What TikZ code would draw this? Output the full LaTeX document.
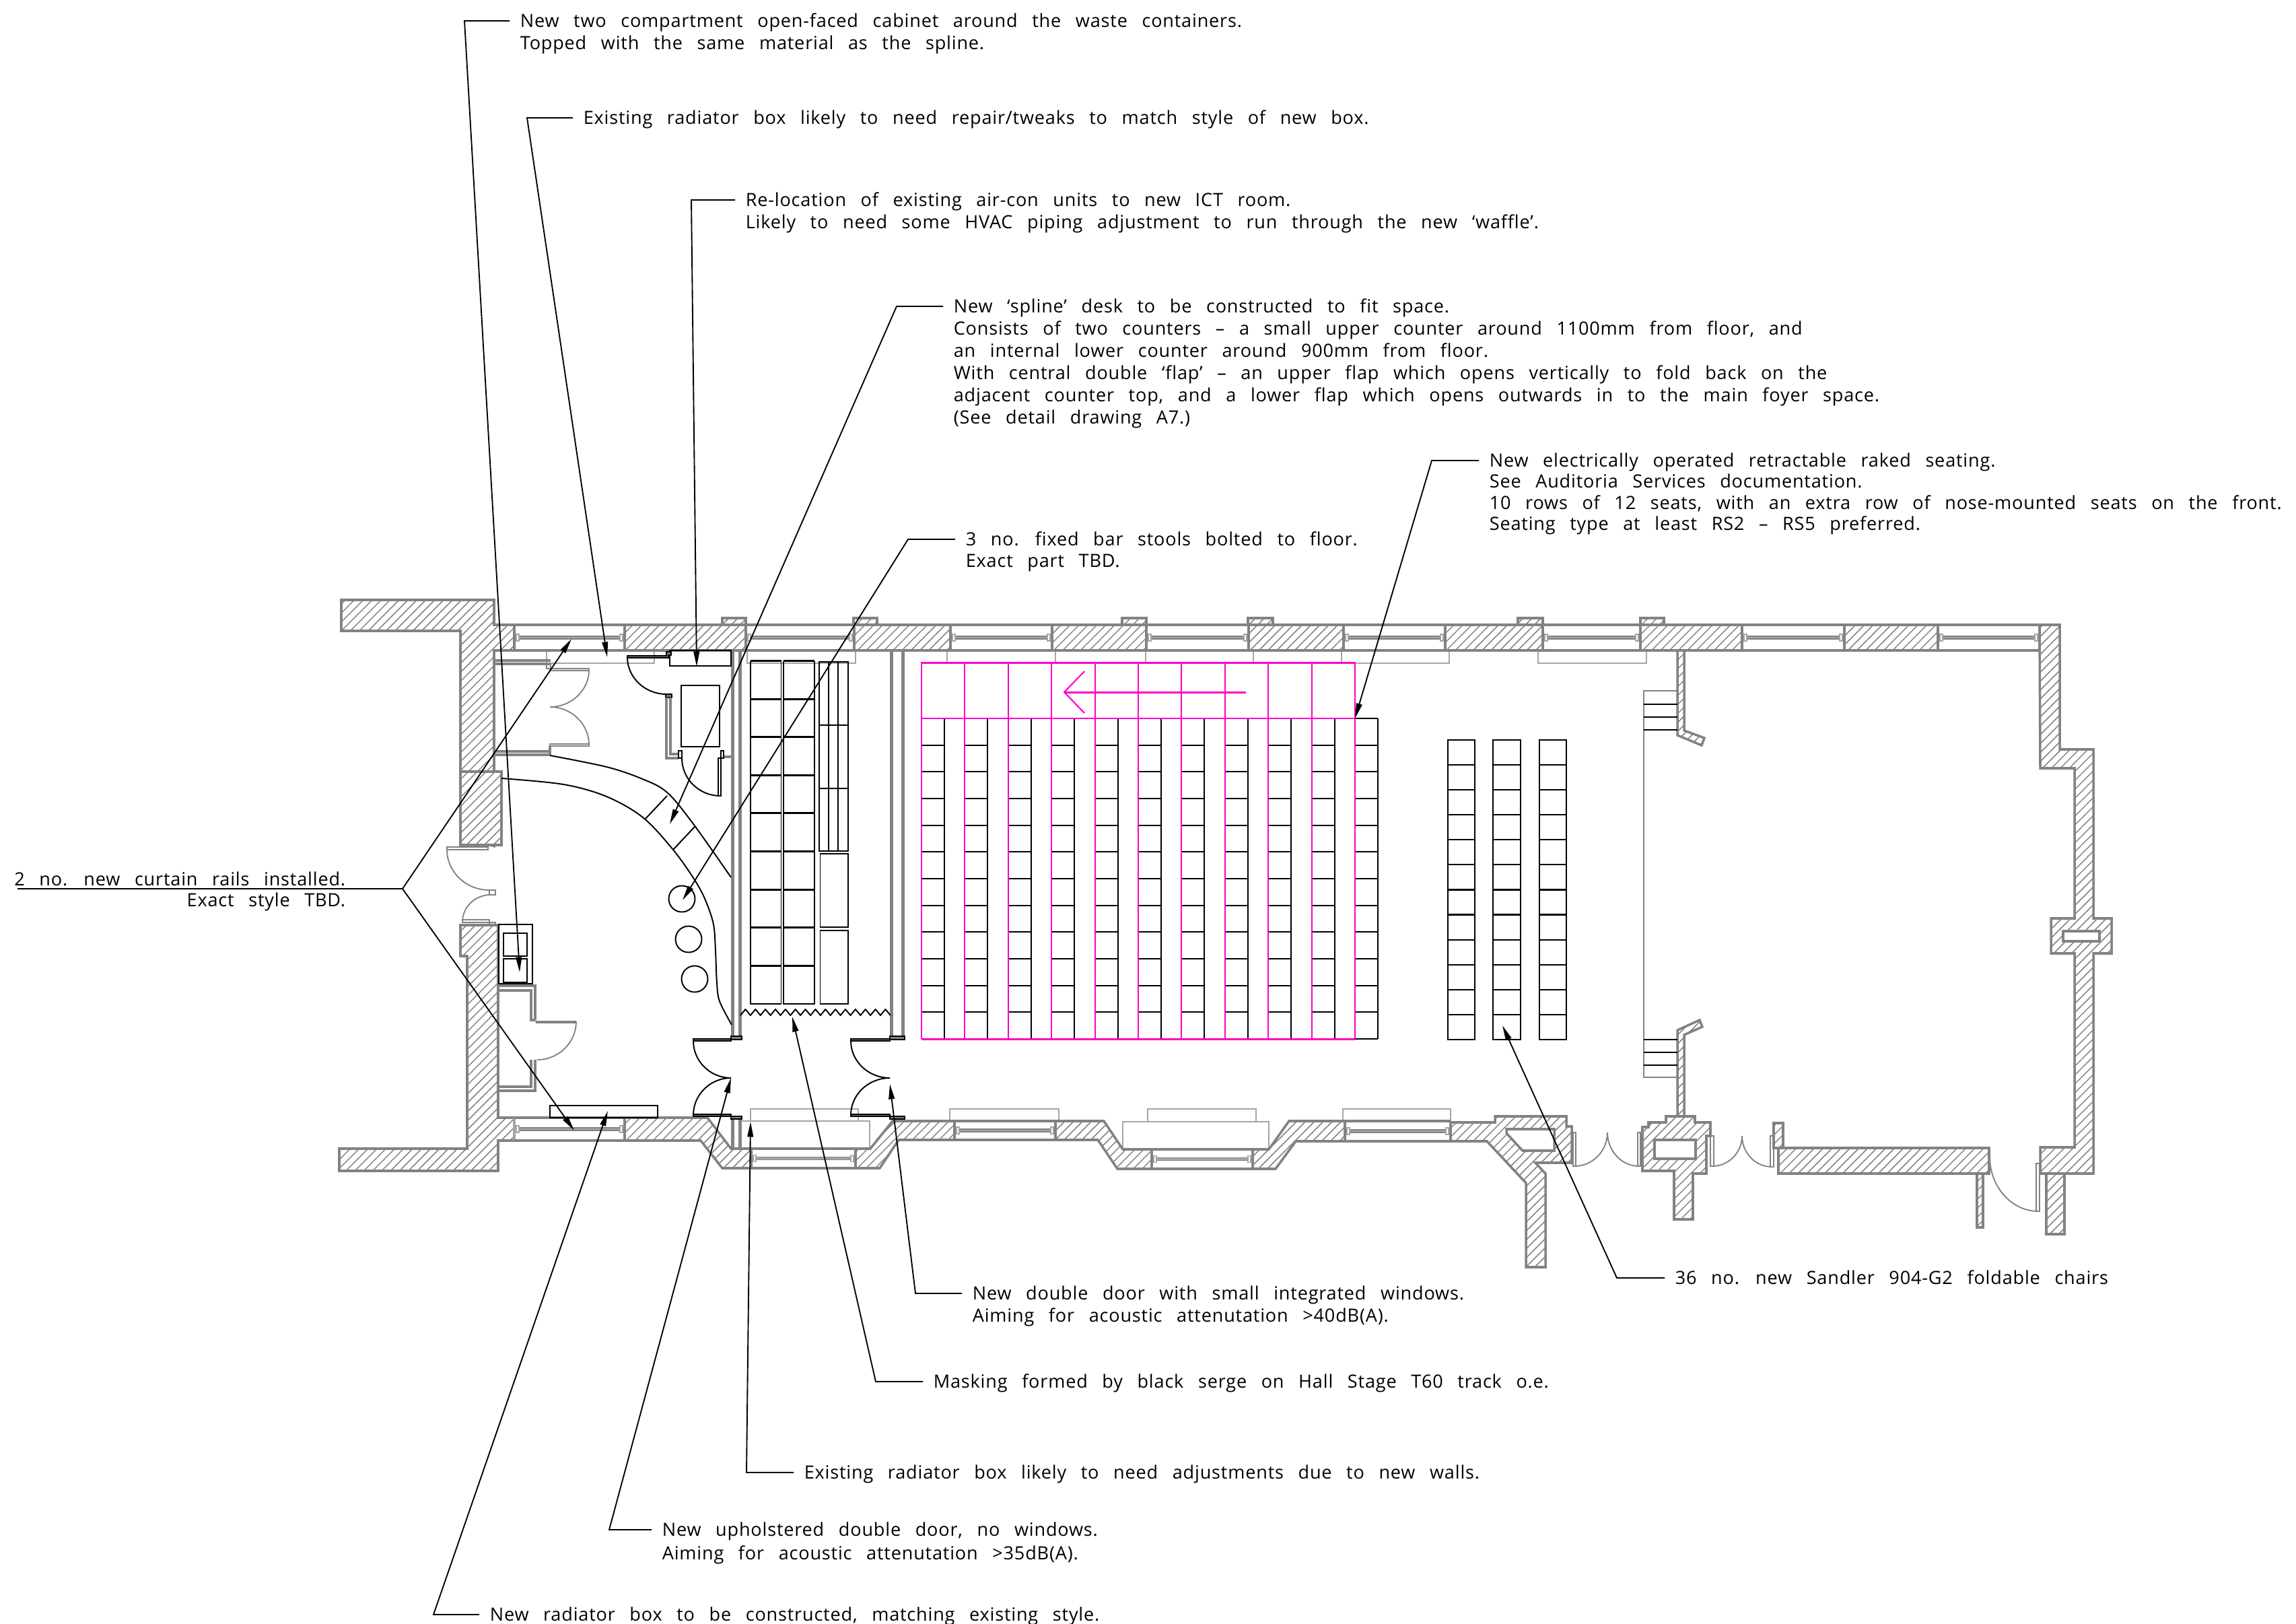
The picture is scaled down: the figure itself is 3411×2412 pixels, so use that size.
\documentclass[tikz,border=0pt]{standalone}
\usepackage{fontspec}
\setmainfont{Open Sans}[WordSpace=2.75,LetterSpace=3,Ligatures=NoCommon]
\usetikzlibrary{arrows.meta,patterns.meta}
\definecolor{wallgray}{RGB}{130,130,130}
\definecolor{lightg}{RGB}{165,165,165}
\definecolor{mag}{RGB}{255,0,200}
\tikzset{
 x=0.24pt,y=-0.24pt,
 wall/.style={draw=wallgray,line width=0.85pt,line join=miter},
 partitionwall/.style={draw=wallgray,line width=1.2pt},
 hatched/.style={wall,pattern={Lines[angle=45,distance=2.25pt,line width=0.36pt]},pattern color=wallgray},
 radbox/.style={draw=lightg,line width=0.45pt},
 greythin/.style={draw=wallgray,line width=0.45pt},
 winside/.style={draw=lightg,line width=0.75pt},
 blk/.style={draw=black,line width=0.47pt},
 blkthick/.style={draw=black,line width=0.7pt},
 seatrow/.style={draw=black,line width=0.52pt},
 magline/.style={draw=mag,line width=0.5pt},
 magthick/.style={draw=mag,line width=0.72pt},
 leader/.style={draw=black,line width=0.45pt,-{Triangle[length=5.4pt,width=2.1pt]}},
 leaderplain/.style={draw=black,line width=0.45pt},
 txt/.style={font=\fontsize{6.5pt}{7.5pt}\selectfont,anchor=west,inner xsep=3.6pt,inner ysep=0pt,text height=4.64pt,text depth=0pt,xshift=-3.6pt,text=black},
 txtr/.style={txt,anchor=east,xshift=7.2pt},
}
\newcommand\qarc[4]{({#1},{#2}) .. controls ({#1},{#2+.55*(#4-#2)}) and ({#3+.55*(#1-#3)},{#4}) .. ({#3},{#4})}
\newcommand\win[4]{%
 \draw[winside] (#1,#3) -- (#1,#4); \draw[winside] (#2,#3) -- (#2,#4);
 \draw[wall] (#1,#3) -- (#2,#3); \draw[wall] (#1,#4) -- (#2,#4);
 \pgfmathsetmacro\ym{(#3+#4)/2}
 \pgfmathsetmacro\xa{#1+6}\pgfmathsetmacro\xb{#2-6}
 \draw[draw=lightg,line width=1pt] (\xa,\ym) -- (\xb,\ym);
 \draw[draw=wallgray,line width=0.3pt] (\xa,\ym-2) -- (\xb,\ym-2);
 \draw[draw=wallgray,line width=0.3pt] (\xa,\ym+2) -- (\xb,\ym+2);
 \draw[draw=lightg,line width=0.35pt] (\xa-3,\ym-5) rectangle (\xa+1,\ym+5);
 \draw[draw=lightg,line width=0.35pt] (\xb-1,\ym-5) rectangle (\xb+3,\ym+5);
}
\newcommand\tline[4]{\node[txt] (#1) at (#2,#3) {#4};}
\begin{document}
\begin{tikzpicture}
\useasboundingbox (0,0) rectangle (3411,2412);
% ---------- radiators (light grey)
\foreach \a/\b in {812/972,1110/1271,1407/1568,1702/1862,1993/2153,2285/2446}
  \draw[radbox] (\a,966) -- (\a,985) -- (\b,985) -- (\b,966);
\foreach \a/\b in {1115/1275,1411/1573,1705/1866,1995/2155}
  \draw[radbox] (\a,1665) -- (\a,1647) -- (\b,1647) -- (\b,1665);
\draw[radbox] (1102,1665) -- (1292,1665) -- (1292,1707);
\draw[radbox] (1668,1707) -- (1668,1666) -- (1885,1666) -- (1885,1707);
% ---------- top wall
\foreach \a/\b in {764/928,1108/1269,1412/1563,1703/1855,1996/2147,2292/2437,2588/2740,2879/3030}
  {\win{\a}{\b}{928}{966}}
\foreach \a/\b in {928/1108,1269/1412,1563/1703,1855/1996,2147/2292,2437/2588,2740/2879}
  \draw[hatched] (\a,928) rectangle (\b,966);
\foreach \a/\b in {1073/1108,1268/1303,1667/1703,1854/1891,2255/2292,2437/2472}
  \draw[hatched] (\a,918) rectangle (\b,928);
% left walls
\draw[hatched] (507,891) -- (734,891) -- (734,928) -- (764,928) -- (764,966) -- (734,966) -- (734,1146) -- (684,1146) -- (684,937) -- (507,937) -- cycle;
\draw[hatched] (684,1146) rectangle (745,1255);
\draw[hatched] (684,1374) -- (740,1374) -- (740,1660) -- (764,1660) -- (764,1694) -- (740,1694) -- (740,1739) -- (504,1739) -- (504,1706) -- (694,1706) -- (694,1420) -- (684,1420) -- cycle;
% right wall
\draw[hatched] (3030,928) -- (3060,928) -- (3060,1113) -- (3110,1113) -- (3110,1364) -- (3137,1364) -- (3137,1416) -- (3110,1416) -- (3110,1743) -- (3031,1743) -- (3031,1704) -- (3082,1704) -- (3082,1416) -- (3047,1416) -- (3047,1364) -- (3082,1364) -- (3082,1141) -- (3031,1141) -- cycle;
\draw[wall,fill=white] (3065,1383) rectangle (3119,1398);
% ---------- bottom wall
\win{764}{928}{1660}{1694}
\win{1116}{1271}{1706}{1735}
\win{1418}{1568}{1665}{1693}
\win{1711}{1861}{1707}{1736}
\win{1998}{2155}{1665}{1695}
\draw[hatched] (928,1660) -- (1051,1660) -- (1086,1706) -- (1116,1706) -- (1116,1735) -- (1073,1735) -- (1041,1694) -- (928,1694) -- cycle;
\draw[hatched] (1271,1706) -- (1293,1706) -- (1326,1665) -- (1418,1665) -- (1418,1693) -- (1335,1693) -- (1307,1735) -- (1271,1735) -- cycle;
\draw[hatched] (1568,1665) -- (1640,1665) -- (1668,1707) -- (1711,1707) -- (1711,1736) -- (1660,1736) -- (1631,1693) -- (1568,1693) -- cycle;
\draw[hatched] (1861,1707) -- (1885,1707) -- (1915,1665) -- (1998,1665) -- (1998,1695) -- (1925,1695) -- (1895,1736) -- (1861,1736) -- cycle;
% irregular chimney
\draw[hatched] (2155,1667) -- (2221,1667) -- (2221,1658) -- (2327,1658) -- (2327,1673) -- (2335,1673) -- (2335,1727) -- (2281,1727) -- (2296,1743) -- (2296,1882) -- (2267,1882) -- (2267,1757) -- (2209,1695) -- (2155,1695) -- cycle;
\draw[wall,fill=white] (2238,1677) -- (2309,1677) -- (2309,1709) -- (2262,1709) -- (2238,1683) -- cycle;
% pillar
\draw[hatched] (2475,1658) -- (2518,1658) -- (2518,1667) -- (2541,1667) -- (2541,1687) -- (2535,1687) -- (2535,1743) -- (2515,1743) -- (2515,1811) -- (2487,1811) -- (2487,1739) -- (2440,1739) -- (2440,1674) -- (2449,1674) -- (2449,1667) -- (2475,1667) -- cycle;
\draw[wall,fill=white] (2458,1693) rectangle (2519,1721);
% partition
\draw[hatched] (2492,966) -- (2502,966) -- (2502,1085) -- (2532,1096) -- (2528,1107) -- (2492,1092) -- cycle;
\draw[hatched] (2492,1658) -- (2492,1530) -- (2525,1515) -- (2529,1525) -- (2502,1537) -- (2502,1658) -- cycle;
% long wall and stubs
\draw[hatched] (2635,1668) rectangle (2649,1705);
\draw[hatched] (2642,1705) rectangle (2955,1743);
\draw[hatched] (3040,1743) rectangle (3067,1833);
\draw[hatched] (2937,1743) rectangle (2946,1823);
% lower right doors
\draw[greythin] \qarc{2388}{1682}{2339}{1732};
\draw[greythin] \qarc{2388}{1682}{2435}{1732};
\draw[greythin] (2337,1682) rectangle (2341,1732);
\draw[greythin] (2433,1682) rectangle (2437,1732);
\draw[greythin] \qarc{2588}{1687}{2544}{1732};
\draw[greythin] \qarc{2588}{1687}{2632}{1733};
\draw[greythin] (2541,1687) rectangle (2546,1732);
\draw[greythin] (2630,1687) rectangle (2635,1733);
\draw[greythin] \qarc{2956}{1718}{3028}{1799};
\draw[greythin] (3025,1728) rectangle (3030,1799);
% raked side steps
\draw[greythin,line width=.65pt] (2492,1026) -- (2442,1026) -- (2442,1600) -- (2492,1600);
\foreach \y in {1046,1065,1084} \draw[blk] (2442,\y) -- (2492,\y);
\foreach \y in {1544,1563,1582} \draw[blk] (2442,\y) -- (2492,\y);
% ---------- lobby gray doors
\draw[wall] (734,981) -- (818,981); \draw[wall] (734,986) -- (818,986);
\draw[greythin] (812,987) rectangle (818,993);
\draw[greythin] (817,993) rectangle (875,996);
\draw[greythin] \qarc{875}{995}{817}{1050};
\draw[greythin] \qarc{875}{1106}{817}{1050};
\draw[greythin] (817,1105) rectangle (875,1108);
\draw[wall] (734,1116) -- (818,1116); \draw[wall] (734,1121) -- (818,1121); \draw[wall] (817,1108) -- (817,1121);
\draw[greythin] (664,1258) rectangle (725,1262);
\draw[greythin] \qarc{664}{1262}{727}{1322};
\draw[greythin] (727,1322) rectangle (736,1329);
\draw[greythin] (725,1255) -- (736,1258);
\draw[greythin] \qarc{687}{1369}{729}{1329};
\draw[greythin] (687,1366) rectangle (727,1370);
\draw[greythin] (727,1370) rectangle (736,1374);
% cupboard lower left
\draw[wall] (740,1464) -- (795,1464) -- (795,1515);
\draw[wall] (740,1471) -- (789,1471) -- (789,1515) -- (795,1515);
\draw[wall,line width=.6pt] (795,1517) -- (856,1517);
\draw[greythin] (796,1519) -- (856,1519);
\draw[greythin] \qarc{856}{1517}{798}{1574};
\draw[wall] (795,1574) -- (795,1620) -- (740,1620);
\draw[wall] (789,1574) -- (789,1614) -- (740,1614);
% ---------- partitions
\foreach \x in {1088.5,1099.5,1324,1341.5} \draw[partitionwall] (\x,966) -- (\x,1540);
\foreach \x in {1088.5,1099.5} \draw[partitionwall] (\x,1663) -- (\x,1707);
% ---------- black items in lobby
\draw[blk] (995,966) rectangle (1086,989);
\draw[blk,fill=wallgray] (932,974) -- (990,974) -- (990,968) -- (997,968) -- (997,973) -- (993,973) -- (993,977) -- (932,977) -- cycle;
\draw[blk] \qarc{932}{976}{990}{1031};
\draw[blk,fill=wallgray] (989,1031) rectangle (998,1036);
\draw[wall] (990,1036) -- (990,1126) -- (1008,1126);
\draw[wall] (996,1036) -- (996,1120) -- (1008,1120);
\draw[wall] (1075,1124) -- (1088,1124);
\draw[blk] (1012,1018) rectangle (1069,1109);
\draw[blk,fill=white] (1008,1115) rectangle (1013,1126);
\draw[blk,fill=white] (1071,1115) rectangle (1075,1126);
\draw[blk] \qarc{1013}{1126}{1070}{1182};
\draw[blk,fill=white] (1067,1126) rectangle (1071,1182);
% spline desk
\draw[blk] plot[smooth,tension=.55] coordinates {(817,1122) (901,1139) (952,1156) (990,1176) (1028,1221) (1086,1303)};
\draw[blk] plot[smooth,tension=.55] coordinates {(745,1156) (837,1165) (901,1183) (955,1214) (1000,1262) (1032,1307) (1048,1337) (1060,1373) (1063,1413) (1065,1460) (1069,1487) (1087,1522)};
\draw[blk] (991,1182) -- (958,1217);
\draw[blk] (1032,1228) -- (1000,1262);
% stools
\foreach \cx/\cy in {1013/1335,1023/1395,1032/1454} \draw[blk] (\cx,\cy) circle (19.5);
% waste cabinet
\draw[blk] (741,1373) rectangle (791,1461);
\draw[blk] (748,1386) rectangle (783,1420);
\draw[blk] (748,1424) rectangle (783,1459);
% new radiator box
\draw[blk] (817,1642) rectangle (977,1660);
% double doors
\foreach \l/\r in {1030/1086,1264/1322}{
  \draw[blk,fill=wallgray] (\l,1543) rectangle (\r,1546);
  \draw[blk,fill=wallgray] (\l,1655) rectangle (\r,1658);
  \draw[blk] \qarc{\l}{1546}{\r}{1601};
  \draw[blk] \qarc{\l}{1656}{\r}{1601};
}
\draw[blk,fill=wallgray] (1086,1539) rectangle (1102,1544);
\draw[blk,fill=wallgray] (1086,1658) rectangle (1102,1662);
\draw[blk,fill=wallgray] (1322,1539) rectangle (1344,1544);
\draw[blk,fill=wallgray] (1322,1658) rectangle (1344,1662);
% masking
\draw[blk,line join=round] (1100,1508) \foreach \i in {0,...,14}{ -- ++(7.43,-9) -- ++(7.43,9)};
% store racks
\foreach \xa/\xb in {1115/1160.5,1164/1210}{
  \draw[blk] (\xa,981.5) -- (\xa,1491) -- (\xb,1491) -- (\xb,981.5);
  \foreach \j in {0,...,8} \draw[blkthick] (\xa,981.5+\j*56.6) -- (\xb,981.5+\j*56.6);
}
\draw[blk] (1217,983) rectangle (1260,1263.6);
\foreach \y in {983,1077,1171} \draw[blkthick] (1217,\y) -- (1260,\y);
\foreach \x in {1231,1245} \draw[blk] (\x,983) -- (\x,1263.6);
\draw[blk] (1218.5,1268) rectangle (1260,1377);
\draw[blk] (1218.5,1382) rectangle (1260,1491);
% chairs
\foreach \xa/\xb in {2151/2191,2218/2259,2287/2327}{
  \draw[blk] (\xa,1099) rectangle (\xb,1544);
  \foreach \j in {0,...,12} \draw[seatrow] (\xa,1099+\j*37.08) -- (\xb,1099+\j*37.08);
}
% raked seating: black rows
\foreach \i in {0,...,10}{
  \pgfmathsetmacro\xl{1369+\i*64.4}
  \pgfmathsetmacro\xr{\xl+34}
  \draw[blk] (\xr,1067) -- (\xr,1543);
  \foreach \j in {1,...,11} \draw[seatrow] (\xl,1067+\j*39.67) -- (\xr,1067+\j*39.67);
  \draw[seatrow] (\xl,1067) -- (\xr,1067);
  \draw[magline] (\xl,1067) -- (\xl,1543);
}
\draw[blk] (2013,1543) -- (2047,1543);
% magenta
\draw[magthick] (1369,1543) -- (2013,1543);
\draw[magline] (1369,984) rectangle (2013,1067);
\draw[magthick] (1369,984) -- (2013,984);
\foreach \i in {1,...,9} \draw[magline] (1369+\i*64.4,984) -- (1369+\i*64.4,1067);
\draw[magthick] (1851,1028) -- (1581,1028);
\draw[magline] (1611,997) -- (1581,1028) -- (1611,1059);
% ---------- texts
\tline{tAa}{772}{31}{New two compartment open-faced cabinet around the waste containers.}
\tline{tAb}{772}{64}{Topped with the same material as the spline.}
\tline{tB}{866}{175}{Existing radiator box likely to need repair/tweaks to match style of new box.}
\tline{tCa}{1107}{297}{Re-location of existing air-con units to new ICT room.}
\tline{tCb}{1107}{330}{Likely to need some HVAC piping adjustment to run through the new ‘waffle’.}
\tline{tDa}{1416}{455}{New ‘spline’ desk to be constructed to fit space.}
\tline{tDb}{1416}{488}{Consists of two counters – a small upper counter around 1100mm from floor, and}
\tline{tDc}{1416}{521}{an internal lower counter around 900mm from floor.}
\tline{tDd}{1416}{554}{With central double ‘flap’ – an upper flap which opens vertically to fold back on the}
\tline{tDe}{1416}{587}{adjacent counter top, and a lower flap which opens outwards in to the main foyer space.}
\tline{tDf}{1416}{620}{(See detail drawing A7.)}
\tline{tEa}{1434}{801}{3 no. fixed bar stools bolted to floor.}
\tline{tEb}{1434}{833}{Exact part TBD.}
\tline{tFa}{2212}{684}{New electrically operated retractable raked seating.}
\tline{tFb}{2212}{715}{See Auditoria Services documentation.}
\tline{tFc}{2212}{747}{10 rows of 12 seats, with an extra row of nose-mounted seats on the front.}
\tline{tFd}{2212}{778}{Seating type at least RS2 – RS5 preferred.}
\node[txtr] (tGa) at (514,1306) {2 no. new curtain rails installed.};
\node[txtr] (tGb) at (514,1337) {Exact style TBD.};
\tline{tH}{2488}{1898}{36 no. new Sandler 904-G2 foldable chairs}
\tline{tIa}{1444}{1921}{New double door with small integrated windows.}
\tline{tIb}{1444}{1954}{Aiming for acoustic attenutation >40dB(A).}
\tline{tJ}{1386}{2052}{Masking formed by black serge on Hall Stage T60 track o.e.}
\tline{tK}{1194}{2187}{Existing radiator box likely to need adjustments due to new walls.}
\tline{tLa}{983}{2272}{New upholstered double door, no windows.}
\tline{tLb}{983}{2307}{Aiming for acoustic attenutation >35dB(A).}
\tline{tM}{727}{2398}{New radiator box to be constructed, matching existing style.}
% ---------- leaders
\coordinate (eA) at (690,31);   \coordinate (pA) at (772,1444);
\coordinate (eB) at (783,175);  \coordinate (pB) at (902,976);
\coordinate (eC) at (1027,297); \coordinate (pC) at (1035,990);
\coordinate (eD) at (1332,455); \coordinate (pD) at (995,1224);
\coordinate (eE) at (1349,801); \coordinate (pE) at (1014,1337);
\coordinate (eF) at (2127,684); \coordinate (pF) at (2013,1067);
\coordinate (eH) at (2402,1898);\coordinate (pH) at (2232,1523);
\coordinate (eI) at (1360,1921);\coordinate (pI) at (1322,1610);
\coordinate (eJ) at (1301,2052);\coordinate (pJ) at (1177,1510);
\coordinate (eK) at (1109,2187);\coordinate (pK) at (1115,1666);
\coordinate (eL) at (905,2272); \coordinate (pL) at (1086,1601);
\coordinate (eM) at (644,2398); \coordinate (pM) at (903,1650);
\foreach \n in {B,H,J,K,M} \draw[leader] (t\n.west) -- (e\n) -- (p\n);
\draw[leader] (tAa.west) -- (eA) -- (pA);
\draw[leader] (tCa.west) -- (eC) -- (pC);
\draw[leader] (tDa.west) -- (eD) -- (pD);
\draw[leader] (tEa.west) -- (eE) -- (pE);
\draw[leader] (tFa.west) -- (eF) -- (pF);
\draw[leader] (tIa.west) -- (eI) -- (pI);
\draw[leader] (tLa.west) -- (eL) -- (pL);
\coordinate (uG) at (26,1320); \coordinate (jG) at (598,1320);
\coordinate (pGa) at (849,949); \coordinate (pGb) at (853,1679);
\draw[leaderplain] (uG) -- (jG);
\draw[leader] (jG) -- (pGa);
\draw[leader] (jG) -- (pGb);
\end{tikzpicture}
\end{document}
